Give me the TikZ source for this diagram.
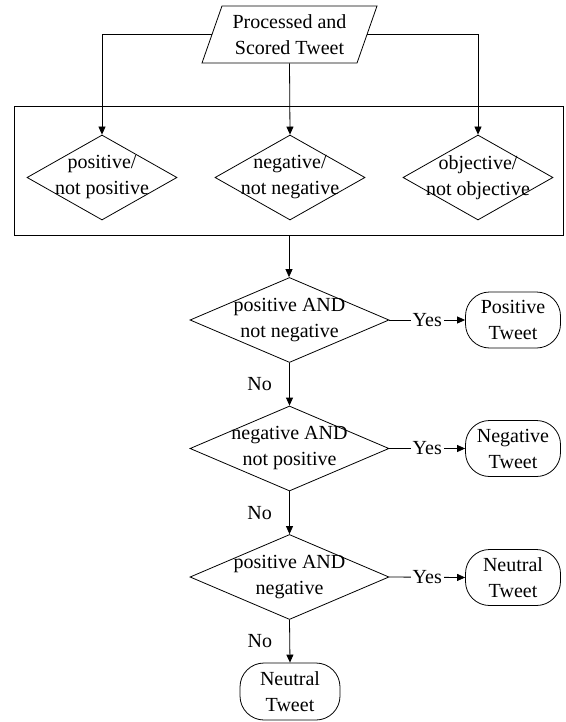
\documentclass[tikz,border=0pt]{standalone}
\usepackage{fontspec}
\setmainfont{Liberation Serif}
\usetikzlibrary{shapes.geometric,arrows.meta,positioning}

\begin{document}
\begin{tikzpicture}[x=1pt,y=-1pt,
  font=\fontsize{20}{26}\selectfont,
  line width=0.8pt,
  every label/.style={align=center},
  arr/.style={-{Triangle[length=8pt,width=7pt]}},
  inbox/.style={draw, trapezium, trapezium left angle=63.5, trapezium right angle=116.5,
    trapezium stretches body, minimum width=175pt, minimum height=57pt,
    inner sep=0pt, align=center},
  test/.style={draw, diamond, inner sep=0pt, minimum width=150pt, minimum height=85pt},
  check/.style={draw, diamond, inner sep=0pt, minimum width=199pt, minimum height=85pt},
  tweet/.style={draw, rounded corners=24pt, minimum width=95pt, minimum height=56pt,
    inner sep=0pt, align=center}]

\useasboundingbox (0,0) rectangle (565,722);

% Input
\node[inbox] (tw) at (289.5,34.5)
{Processed and\\Scored Tweet};

% Scores
\node[draw, inner sep=0pt, minimum width=549pt, minimum height=129pt] (box) at (289,170.5) {};

\node[test, label=center:{positive/\\not positive}] (pos) at (102,177.5) {};
\node[test, label=center:{negative/\\not negative}] (neg) at (290,177.5) {};
\node[test, label=center:{objective/\\not objective}] (obj) at (478,177.5) {};

\draw[arr] (tw.west) -| (pos.north);
\draw[arr] (tw.south) -- (neg.north);
\draw[arr] (tw.east) -| (obj.north);

% Decisions
\node[check, label=center:{positive AND\\not negative}] (c1) at (289.5,320) {};
\node[check, label=center:{negative AND\\not positive}] (c2) at (289.5,448.5) {};
\node[check, label=center:{positive AND\\negative}] (c3) at (289.5,577) {};

\node[tweet] (p1) at (513,320)
{Positive\\Tweet};
\node[tweet] (p2) at (513,448.5)
{Negative\\Tweet};
\node[tweet] (p3) at (513,577.5)
{Neutral\\Tweet};
\node[tweet, minimum width=100pt, minimum height=57pt] (n4) at (290,691.5)
{Neutral\\Tweet};

\draw[arr] (box.south) -- (box.south |- c1.north);

\draw[arr] (c1.east) -- node[fill=white, inner sep=2pt] {Yes} (p1.west);
\draw[arr] (c2.east) -- node[fill=white, inner sep=2pt] {Yes} (p2.west);
\draw[arr] (c3.east) -- node[fill=white, inner sep=2pt] {Yes} (p3.west);

\draw[arr] (c1.south) -- node[left=14pt] {No} (c2.north);
\draw[arr] (c2.south) -- node[left=14pt] {No} (c3.north);
\draw[arr] (c3.south) -- node[left=14pt] {No} (n4.north);

\end{tikzpicture}
\end{document}
